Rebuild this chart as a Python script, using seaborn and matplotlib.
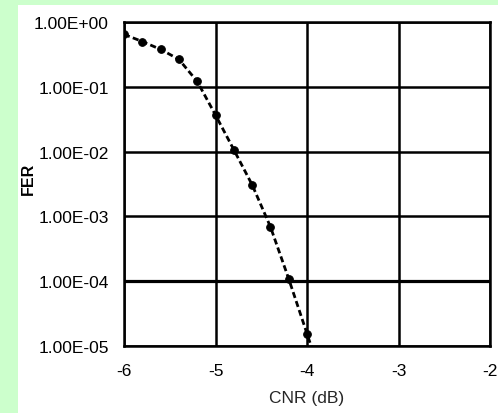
import matplotlib
matplotlib.use("Agg")
import matplotlib.pyplot as plt
from matplotlib.patches import Rectangle
from matplotlib.ticker import FixedLocator, NullLocator, FuncFormatter
import pandas as pd
import seaborn as sns

# Frame error rate versus carrier-to-noise ratio
cnr_db = [-6.0, -5.8, -5.6, -5.4, -5.2, -5.0, -4.8, -4.6, -4.4, -4.2, -4.0, -3.8]
fer = [0.644, 0.50, 0.378, 0.265, 0.121, 0.0367, 0.0107, 0.00308,
       6.93e-4, 1.09e-4, 1.55e-5, 2.2e-6]

x_ticks = [-6, -5, -4, -3, -2]
y_ticks = [1e-5, 1e-4, 1e-3, 1e-2, 1e-1, 1e0]

sns.set_style("white")
plt.rcParams["font.family"] = ["Liberation Sans", "DejaVu Sans"]

df = pd.DataFrame({"CNR (dB)": cnr_db, "FER": fer})

fig = plt.figure(figsize=(4.98, 4.14), dpi=100)
fig.patch.set_facecolor("#ccffcc")
fig.patches.append(Rectangle((18 / 498, 0), 1 - 18 / 498, 1 - 6 / 414,
                             transform=fig.transFigure, facecolor="white",
                             edgecolor="none", zorder=-10))

ax = fig.add_axes([124 / 498, 1 - 347 / 414, 366 / 498, 324 / 414])
ax.set_zorder(5)
ax.set_facecolor("white")

ax.set_yscale("log")

sns.lineplot(data=df, x="CNR (dB)", y="FER", ax=ax, color="black",
             linestyle=(0, (2.2, 1.2)), linewidth=2.0, marker="o",
             markersize=5.5, markeredgecolor="black", markerfacecolor="black",
             zorder=5, clip_on=True)

ax.set_xlim(-6, -2)
ax.set_ylim(1e-5, 1)
ax.xaxis.set_major_locator(FixedLocator(x_ticks))
ax.yaxis.set_major_locator(FixedLocator(y_ticks))
ax.yaxis.set_minor_locator(NullLocator())
ax.xaxis.set_minor_locator(NullLocator())
ax.yaxis.set_major_formatter(FuncFormatter(lambda v, p: f"{v:.2E}"))
ax.xaxis.set_major_formatter(FuncFormatter(lambda v, p: f"{v:g}"))

ax.grid(True, which="major", color="black", linewidth=1.8)
ax.axhline(1e-4, color="black", linewidth=2.3, zorder=1)
for s in ax.spines.values():
    s.set_visible(True)
    s.set_color("black")
    s.set_linewidth(1.8)

ax.tick_params(axis="both", length=0, labelsize=12.5, colors="black")
ax.tick_params(axis="y", pad=11)
ax.tick_params(axis="x", pad=12)

ax.set_xlabel("CNR (dB)", fontsize=12.5, labelpad=9)
ax.set_ylabel("")
fig.text(28 / 498, 1 - 179 / 414, "FER", rotation=90, ha="center", va="center",
         fontsize=11.5, fontweight="bold", color="black",
         family=["Liberation Sans", "DejaVu Sans"])

fig.savefig("out.png", dpi=100, facecolor=fig.get_facecolor())
